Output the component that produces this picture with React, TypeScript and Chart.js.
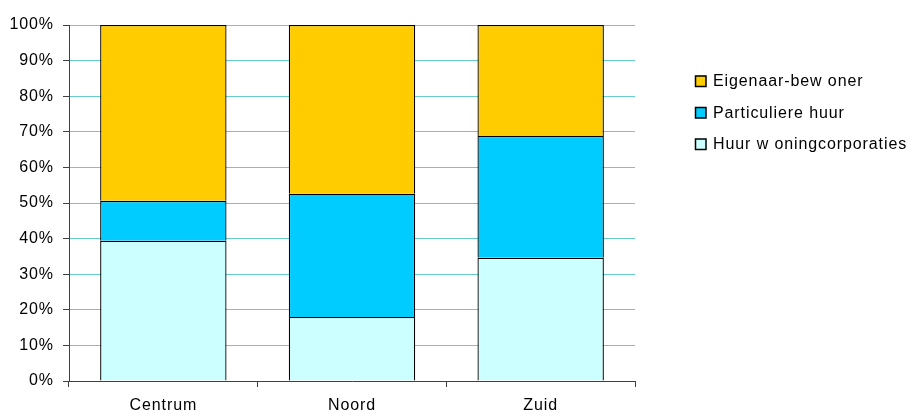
import React, { useEffect, useRef } from "react";
import { Chart, registerables } from "chart.js";

Chart.register(...registerables);

const categories = ["Centrum", "Noord", "Zuid"];
const huurCorporaties = [39.4, 18.0, 34.6];
const particuliereHuur = [11.2, 34.6, 34.2];
const eigenaarBewoner = [49.4, 47.4, 31.2];
const seriesLabels = ["Huur w oningcorporaties", "Particuliere huur", "Eigenaar-bew oner"];
const seriesColors = ["#CCFFFF", "#00CCFF", "#FFCC00"];

const FONT = "'Liberation Sans', Arial, sans-serif";
const FONT_SIZE = 16;
const LETTER_SPACING = "0.9px";

const spacingPlugin = {
  id: "letterSpacing",
  beforeUpdate(chart: any) {
    chart.ctx.letterSpacing = LETTER_SPACING;
  },
  beforeLayout(chart: any) {
    chart.ctx.letterSpacing = LETTER_SPACING;
  },
  beforeDraw(chart: any) {
    chart.ctx.letterSpacing = LETTER_SPACING;
  },
};

const legendPlugin = {
  id: "customLegend",
  afterDraw(chart: any) {
    const ctx = chart.ctx;
    const ds = chart.data.datasets.slice().reverse();
    const x = 695;
    const y0 = 81;
    const gap = 31.5;
    ctx.save();
    ctx.letterSpacing = LETTER_SPACING;
    ctx.font = `${FONT_SIZE}px ${FONT}`;
    ctx.textBaseline = "middle";
    ctx.textAlign = "left";
    ds.forEach((d: any, i: number) => {
      const cy = y0 + i * gap;
      ctx.fillStyle = d.backgroundColor;
      ctx.fillRect(x, cy - 5.5, 11, 11);
      ctx.strokeStyle = "#000";
      ctx.lineWidth = 1.5;
      ctx.strokeRect(x + 0.5, cy - 5, 10.5, 10.5);
      ctx.fillStyle = "#000";
      ctx.fillText(d.label, 713, cy + 1);
    });
    ctx.restore();
  },
};

export default function App() {
  const ref = useRef<HTMLCanvasElement>(null);
  useEffect(() => {
    if (!ref.current) return;
    const chart = new Chart(ref.current, {
      type: "bar",
      data: {
        labels: categories,
        datasets: [
          { label: seriesLabels[0], data: huurCorporaties, backgroundColor: seriesColors[0] },
          { label: seriesLabels[1], data: particuliereHuur, backgroundColor: seriesColors[1] },
          { label: seriesLabels[2], data: eigenaarBewoner, backgroundColor: seriesColors[2] },
        ].map((d) => ({
          ...d,
          borderColor: "#000",
          borderWidth: 1.3,
          barPercentage: 0.67,
          categoryPercentage: 1,
        })),
      },
      options: {
        responsive: false,
        animation: false,
        devicePixelRatio: 1,
        layout: { padding: { left: 0, right: 276, top: 25, bottom: 0 } },
        plugins: {
          legend: { display: false },
          tooltip: { enabled: false },
        },
        scales: {
          x: {
            stacked: true,
            grid: {
              drawOnChartArea: false,
              tickLength: 6,
              tickColor: "#404040",
              offset: true,
            },
            border: { color: "#404040", width: 1 },
            ticks: {
              color: "#000",
              font: { family: FONT, size: FONT_SIZE },
              padding: 9,
              maxRotation: 0,
            },
            afterFit: (s: any) => {
              s.height = 35;
            },
          },
          y: {
            stacked: true,
            min: 0,
            max: 100,
            grid: {
              color: "#66CCCC",
              lineWidth: 1,
              tickLength: 6,
              tickColor: "#404040",
            },
            border: { color: "#404040", width: 1 },
            ticks: {
              stepSize: 10,
              color: "#000",
              font: { family: FONT, size: FONT_SIZE },
              padding: 9,
              callback: (v: any) => v + "%",
            },
            afterFit: (s: any) => {
              s.width = 69;
            },
          },
        },
      },
      plugins: [spacingPlugin, legendPlugin],
    });
    return () => chart.destroy();
  }, []);
  return (
    <div style={{ position: "fixed", left: 0, top: 0, width: 911, height: 416, background: "#fff" }}>
      <canvas ref={ref} width={911} height={416} />
    </div>
  );
}
